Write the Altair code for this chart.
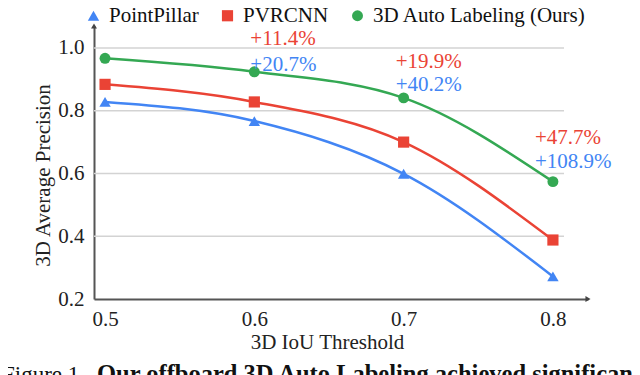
import altair as alt
import pandas as pd

# ---- data ----
thresholds = [0.5, 0.6, 0.7, 0.8]
pointpillar = [0.828, 0.767, 0.599, 0.272]
pvrcnn = [0.884, 0.828, 0.700, 0.388]
auto_labeling = [0.967, 0.924, 0.841, 0.574]

series_names = ["PointPillar", "PVRCNN", "3D Auto Labeling (Ours)"]
series_colors = ["#4285F4", "#EA4335", "#34A853"]
series_shapes = ["triangle-up", "square", "circle"]
series_sizes = [130, 120, 175]

annot_thresholds = [0.6, 0.7, 0.8]
gain_vs_pvrcnn = ["+11.4%", "+19.9%", "+47.7%"]
gain_vs_pointpillar = ["+20.7%", "+40.2%", "+108.9%"]

y_ticks = [0.2, 0.4, 0.6, 0.8, 1.0]
grid_values = [0.4, 0.6, 0.8, 1.0]
x_ticks = [0.5, 0.6, 0.7, 0.8]

x_title = "3D IoU Threshold"
y_title = "3D Average Precision"
caption_plain = "Figure 1."
caption_bold = "Our offboard 3D Auto Labeling achieved significant gains"

FONT = "Liberation Serif"
W, H = 494, 273

rows = []
for name, vals in zip(series_names, [pointpillar, pvrcnn, auto_labeling]):
    for t, v in zip(thresholds, vals):
        rows.append({"series": name, "iou": t, "ap": v})
df = pd.DataFrame(rows)

xs = alt.Scale(domain=[0.4926, 0.8235], nice=False, zero=False)
ys = alt.Scale(domain=[0.2, 1.07], nice=False, zero=False)

x_enc = alt.X("iou:Q", scale=xs, axis=alt.Axis(
    values=x_ticks, format=".1f", title=x_title, grid=False,
    domainColor="#555555", domainWidth=2, ticks=False,
    labelPadding=9, labelFont=FONT, labelFontSize=21, labelColor="#222222",
    titleFont=FONT, titleFontSize=21, titleFontWeight="normal", titleColor="#222222",
    titleX=233, titleY=49, titleBaseline="alphabetic"))
y_enc = alt.Y("ap:Q", scale=ys, axis=alt.Axis(
    values=y_ticks, format=".1f", title=y_title, grid=False,
    domainColor="#555555", domainWidth=2, ticks=False,
    labelPadding=10, labelFont=FONT, labelFontSize=21, labelColor="#222222",
    titleFont=FONT, titleFontSize=21, titleFontWeight="normal", titleColor="#222222",
    titleX=-45, titleY=149, titleBaseline="alphabetic"))

leg = alt.Legend(title=None, orient="none", legendX=-11, legendY=-21, direction="horizontal")
color_scale = alt.Scale(domain=series_names, range=series_colors)
color_enc = alt.Color("series:N", scale=color_scale, legend=leg)
shape_enc = alt.Shape("series:N", scale=alt.Scale(domain=series_names, range=series_shapes), legend=leg)
size_enc = alt.Size("series:N", scale=alt.Scale(domain=series_names, range=series_sizes), legend=leg)

grid = alt.Chart(pd.DataFrame({"g": grid_values})).mark_rule(
    color="#d3d3d3", strokeWidth=1.5).encode(
    y=alt.Y("g:Q", scale=ys), x=alt.value(0), x2=alt.value(470))

lines = alt.Chart(df).mark_line(strokeWidth=2.5, interpolate="monotone").encode(
    x=x_enc, y=y_enc, color=color_enc, detail="series:N")

points = alt.Chart(df).mark_point(filled=True, opacity=1).encode(
    x=alt.X("iou:Q", scale=xs), y=alt.Y("ap:Q", scale=ys),
    color=color_enc, shape=shape_enc, size=size_enc)

arrow_df = pd.DataFrame({"k": [0]})
arrow_up = alt.Chart(arrow_df).mark_point(
    filled=True, color="#444444", opacity=1, size=35, shape="triangle-up").encode(
    x=alt.value(0), y=alt.value(0))
arrow_right = alt.Chart(arrow_df).mark_point(
    filled=True, color="#444444", opacity=1, size=35, shape="triangle-right").encode(
    x=alt.value(W), y=alt.value(H))

annot_dx = [-4, -8, -18]
red_dy = [-27, -30, -38]
blue_dy = [-1, -7, -14]
texts = []
for i, t in enumerate(annot_thresholds):
    base = auto_labeling[thresholds.index(t)]
    d = pd.DataFrame({"iou": [t], "ap": [base], "a": [gain_vs_pvrcnn[i]], "b": [gain_vs_pointpillar[i]]})
    texts.append(alt.Chart(d).mark_text(align="left", baseline="alphabetic", font=FONT, fontSize=21,
                                        color="#EA4335", dx=annot_dx[i], dy=red_dy[i]).encode(
        x=alt.X("iou:Q", scale=xs), y=alt.Y("ap:Q", scale=ys), text="a:N"))
    texts.append(alt.Chart(d).mark_text(align="left", baseline="alphabetic", font=FONT, fontSize=21,
                                        color="#4285F4", dx=annot_dx[i], dy=blue_dy[i]).encode(
        x=alt.X("iou:Q", scale=xs), y=alt.Y("ap:Q", scale=ys), text="b:N"))

cap_df = pd.DataFrame({"plain": [caption_plain], "bold": [caption_bold]})
cap1 = alt.Chart(cap_df).mark_text(align="left", baseline="alphabetic", font=FONT, fontSize=23,
                                   color="#111111").encode(
    x=alt.value(-92), y=alt.value(356), text="plain:N")
cap2 = alt.Chart(cap_df).mark_text(align="left", baseline="alphabetic", font=FONT, fontSize=24.5,
                                   fontWeight="bold", color="#111111").encode(
    x=alt.value(3), y=alt.value(356), text="bold:N")

chart = alt.layer(grid, lines, points, arrow_up, arrow_right, *texts, cap1, cap2).properties(
    width=W, height=H,
    autosize=alt.AutoSizeParams(type="none"),
    padding={"left": 86, "top": 18, "right": 44, "bottom": 76},
    background="white",
).configure_view(stroke=None).configure_legend(
    labelFont=FONT, labelFontSize=21, labelColor="#111111",
    symbolStrokeWidth=0, padding=0, columnPadding=18, labelOffset=5, labelLimit=400
)

chart.save("out.html", embed_options={"renderer": "svg", "actions": False})
